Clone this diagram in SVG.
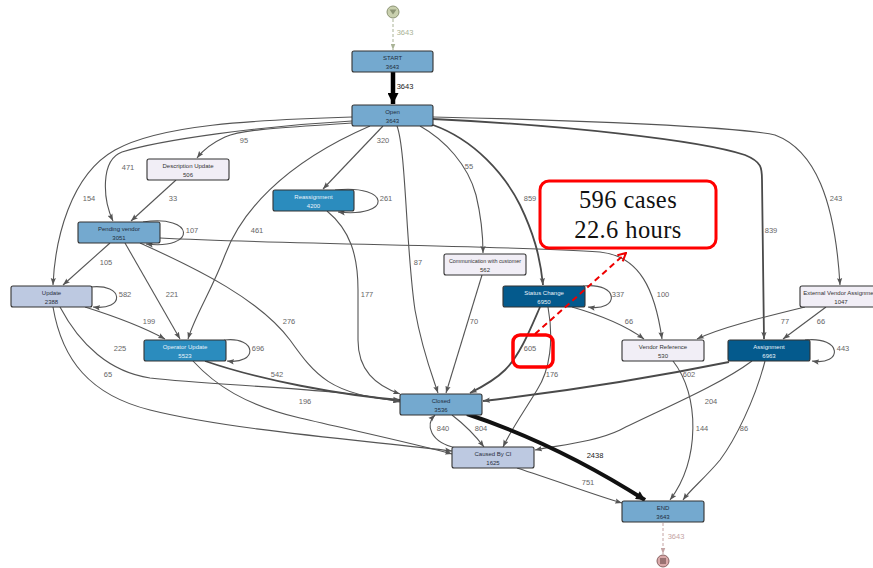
<svg xmlns="http://www.w3.org/2000/svg" width="873" height="568" viewBox="0 0 873 568">
<defs>
<style>
.e{fill:none;stroke:#555;stroke-width:1.1;marker-end:url(#a)}
.t{fill:none;stroke:#4a4a4a;stroke-width:1.8;marker-end:url(#a)}
.lb{font-family:"Liberation Sans",Arial,sans-serif;font-size:7.5px;fill:#666;text-anchor:middle}
.nd rect{stroke:#333;stroke-width:1.1}
.nd text{font-family:"Liberation Sans",Arial,sans-serif;font-size:6px;text-anchor:middle}
.c1 rect{fill:#74a9cf}.c1 text{fill:#1f2d3d}
.c2 rect{fill:#2b8cbe}.c2 text{fill:#e8f2fa}
.c3 rect{fill:#045a8d}.c3 text{fill:#e8f2fa}
.c4 rect{fill:#bdc9e1}.c4 text{fill:#2a2f3d}
.c5 rect{fill:#f1eef6}.c5 text{fill:#333}
.call{font-family:"Liberation Serif","Times New Roman",serif;font-size:24.5px;fill:#111;text-anchor:middle;letter-spacing:0.4px}
</style>
<marker id="a" viewBox="0 0 8 6" refX="8" refY="3" markerWidth="7" markerHeight="6" markerUnits="userSpaceOnUse" orient="auto"><path d="M0,0 L8,3 L0,6 L1.5,3 z" fill="#555"/></marker>
<marker id="ab" viewBox="0 0 10 10" refX="10" refY="5" markerWidth="11" markerHeight="11" markerUnits="userSpaceOnUse" orient="auto"><path d="M0,0 L10,5 L0,10 z" fill="#000"/></marker>
<marker id="ab2" viewBox="0 0 10 10" refX="10" refY="5" markerWidth="10" markerHeight="9" markerUnits="userSpaceOnUse" orient="auto"><path d="M0,0 L10,5 L0,10 z" fill="#111"/></marker>
<marker id="ag" viewBox="0 0 8 6" refX="8" refY="3" markerWidth="6" markerHeight="5" markerUnits="userSpaceOnUse" orient="auto"><path d="M0,0 L8,3 L0,6 z" fill="#a9b396"/></marker>
<marker id="ap" viewBox="0 0 8 6" refX="8" refY="3" markerWidth="6" markerHeight="5" markerUnits="userSpaceOnUse" orient="auto"><path d="M0,0 L8,3 L0,6 z" fill="#c4a4a4"/></marker>
<marker id="ar" viewBox="0 0 10 10" refX="9" refY="5" markerWidth="10" markerHeight="10" markerUnits="userSpaceOnUse" orient="auto"><path d="M1,1 L9,5 L1,9" fill="none" stroke="#e00" stroke-width="2"/></marker>
</defs>
<rect width="873" height="568" fill="#fff"/>

<g id="connectors">
<path d="M393,19 L393,50" fill="none" stroke="#a9b396" stroke-width="1" stroke-dasharray="3,2" marker-end="url(#ag)"/>
<path d="M393,72 L393,104" fill="none" stroke="#000" stroke-width="4.5" marker-end="url(#ab)"/>
<path class="e" d="M352,117 C250,120 160,125 115,150 C70,175 55,240 53,285"/>
<path class="e" d="M352,121 C260,126 160,140 122,152 C100,160 103,200 113,221"/>
<path class="e" d="M352,123 C300,127 245,128 225,137 C212,143 203,150 197,158"/>
<path class="e" d="M370,126 C280,165 240,215 225,255 C212,290 195,315 188,339"/>
<path class="e" d="M383,126 L323,189"/>
<path class="e" d="M397,126 C406,150 406,250 415,310 C422,350 432,375 438,393"/>
<path class="e" d="M420,126 C445,140 468,165 476,195 C482,220 483,240 483,253"/>
<path class="t" d="M433,125 C475,140 505,175 520,205 C533,232 540,255 543,285"/>
<path class="t" d="M433,119 C560,125 700,140 745,155 C762,162 762,168 762,180 L764,339"/>
<path class="e" d="M433,117 C580,120 740,127 775,135 C815,150 835,200 840,285"/>
<path class="e" d="M176,180 L131,221"/>
<path class="e" d="M143,222 C195,214 198,250 146,244"/>
<path class="e" d="M110,243 L63,285"/>
<path class="e" d="M125,243 L180,339"/>
<path class="e" d="M140,243 C200,270 260,300 290,340 C315,375 330,395 400,401"/>
<path class="e" d="M160,238 C300,245 500,245 600,252 C640,256 655,290 662,339"/>
<path class="e" d="M335,190 C392,184 392,218 338,212"/>
<path class="e" d="M327,211 C350,230 358,255 358,290 L358,340 C358,370 375,385 400,394"/>
<path class="e" d="M482,275 L446,393"/>
<path class="e" d="M90,287 C125,283 125,311 93,307"/>
<path class="e" d="M85,307 C120,318 145,328 165,339"/>
<path class="e" d="M60,307 C80,345 110,372 150,378 C220,386 340,388 400,402"/>
<path class="e" d="M53,307 C62,360 90,395 150,410 C230,430 360,440 452,451"/>
<path class="e" d="M224,340 C258,336 258,365 227,361"/>
<path class="t" d="M205,361 C260,380 340,395 400,400"/>
<path class="e" d="M193,361 C215,385 245,405 300,418 C360,432 420,445 452,454"/>
<path class="e" d="M583,286 C620,282 620,312 588,307"/>
<path class="t" d="M540,307 C530,330 520,355 505,370 C495,380 480,388 470,393"/>
<path class="e" d="M548,307 C554,340 550,370 537,390 C525,410 512,428 503,447"/>
<path class="e" d="M572,307 C600,315 625,325 644,339"/>
<path class="e" d="M805,307 C760,318 720,328 697,339"/>
<path class="e" d="M826,307 L783,339"/>
<path class="e" d="M673,361 C700,395 700,460 670,500"/>
<path class="e" d="M805,340 C843,336 843,366 812,361"/>
<path class="t" d="M729,362 C650,378 560,392 483,401"/>
<path class="e" d="M752,361 C720,385 660,410 620,430 C595,442 560,445 535,450"/>
<path class="e" d="M765,361 C755,400 735,440 720,460 C705,478 690,490 683,500"/>
<path d="M467,414 C530,435 590,465 645,500" fill="none" stroke="#111" stroke-width="4" marker-end="url(#ab2)"/>
<path class="e" d="M452,415 C465,425 475,435 484,447"/>
<path class="e" d="M456,448 C430,442 425,425 435,415"/>
<path class="e" d="M517,468 C560,482 595,495 622,503"/>
<path d="M663,523 L663,554" fill="none" stroke="#c4a4a4" stroke-width="1" stroke-dasharray="3,2" marker-end="url(#ap)"/>

<text class="lb" x="405" y="35" style="fill:#a9b396">3643</text>
<text class="lb" x="405" y="89" style="fill:#222">3643</text>
<text class="lb" x="244" y="143">95</text>
<text class="lb" x="128" y="170">471</text>
<text class="lb" x="383" y="143">320</text>
<text class="lb" x="89" y="201">154</text>
<text class="lb" x="173" y="201">33</text>
<text class="lb" x="386" y="201">261</text>
<text class="lb" x="192" y="233">107</text>
<text class="lb" x="257" y="233">461</text>
<text class="lb" x="469" y="169">55</text>
<text class="lb" x="530" y="201">859</text>
<text class="lb" x="771" y="233">839</text>
<text class="lb" x="836" y="201">243</text>
<text class="lb" x="106" y="265">105</text>
<text class="lb" x="418" y="265">87</text>
<text class="lb" x="125" y="297">582</text>
<text class="lb" x="172" y="297">221</text>
<text class="lb" x="367" y="297">177</text>
<text class="lb" x="663" y="297">100</text>
<text class="lb" x="618" y="297">337</text>
<text class="lb" x="149" y="324">199</text>
<text class="lb" x="289" y="324">276</text>
<text class="lb" x="474" y="324">70</text>
<text class="lb" x="629" y="324">66</text>
<text class="lb" x="785" y="324">77</text>
<text class="lb" x="821" y="324">66</text>
<text class="lb" x="120" y="351">225</text>
<text class="lb" x="258" y="351">696</text>
<text class="lb" x="530" y="351">605</text>
<text class="lb" x="843" y="351">443</text>
<text class="lb" x="108" y="377">65</text>
<text class="lb" x="277" y="377">542</text>
<text class="lb" x="552" y="377">176</text>
<text class="lb" x="689" y="377">602</text>
<text class="lb" x="305" y="404">196</text>
<text class="lb" x="711" y="404">204</text>
<text class="lb" x="443" y="431">840</text>
<text class="lb" x="481" y="431">804</text>
<text class="lb" x="702" y="431">144</text>
<text class="lb" x="744" y="431">86</text>
<text class="lb" x="595" y="458" style="fill:#222">2438</text>
<text class="lb" x="588" y="485">751</text>
<text class="lb" x="676" y="539" style="fill:#c4a4a4">3643</text>
</g>

<g id="node-start-event">
<circle cx="393" cy="12" r="6" fill="#c9d0ae" stroke="#8c9474" stroke-width="1"/>
<path d="M389.5,9.5 L396.5,9.5 L393,14.5 z" fill="#8c9474"/>
</g>
<g id="node-end-event">
<circle cx="663" cy="561" r="6" fill="#d9a9a9" stroke="#8a6464" stroke-width="1"/>
<rect x="660" y="558" width="6" height="6" fill="#9a7272"/>
</g>

<g id="node-start" class="nd c1"><rect x="352" y="51" width="81" height="21" rx="2"/><text x="392.5" y="59.5">START</text><text x="392.5" y="69">3643</text></g>
<g id="node-open" class="nd c1"><rect x="352" y="105" width="81" height="21" rx="2"/><text x="392.5" y="113.5">Open</text><text x="392.5" y="123">3643</text></g>
<g id="node-description-update" class="nd c5"><rect x="147" y="159" width="82" height="21" rx="2"/><text x="188" y="167.5">Description Update</text><text x="188" y="177">506</text></g>
<g id="node-reassignment" class="nd c2"><rect x="273" y="190" width="81" height="21" rx="2"/><text x="313.5" y="198.5">Reassignment</text><text x="313.5" y="208">4200</text></g>
<g id="node-pending-vendor" class="nd c1"><rect x="78" y="222" width="82" height="21" rx="2"/><text x="119" y="230.5">Pending vendor</text><text x="119" y="240">3051</text></g>
<g id="node-communication" class="nd c5"><rect x="444" y="254" width="82" height="21" rx="2"/><text x="485" y="262.5" style="font-size:5.4px">Communication with customer</text><text x="485" y="272">562</text></g>
<g id="node-update" class="nd c4"><rect x="11" y="286" width="81" height="21" rx="2"/><text x="51.5" y="294.5">Update</text><text x="51.5" y="304">2388</text></g>
<g id="node-status-change" class="nd c3"><rect x="503" y="286" width="82" height="21" rx="2"/><text x="544" y="294.5">Status Change</text><text x="544" y="304">6950</text></g>
<g id="node-external-vendor" class="nd c5"><rect x="800" y="286" width="82" height="21" rx="2"/><text x="841" y="294.5">External Vendor Assignment</text><text x="841" y="304">1047</text></g>
<g id="node-operator-update" class="nd c2"><rect x="144" y="340" width="82" height="21" rx="2"/><text x="185" y="348.5">Operator Update</text><text x="185" y="358">5523</text></g>
<g id="node-vendor-reference" class="nd c5"><rect x="622" y="340" width="82" height="21" rx="2"/><text x="663" y="348.5">Vendor Reference</text><text x="663" y="358">530</text></g>
<g id="node-assignment" class="nd c3"><rect x="728" y="340" width="82" height="21" rx="2"/><text x="769" y="348.5">Assignment</text><text x="769" y="358">6963</text></g>
<g id="node-closed" class="nd c1"><rect x="400" y="394" width="82" height="21" rx="2"/><text x="441" y="402.5">Closed</text><text x="441" y="412">3536</text></g>
<g id="node-caused-by-ci" class="nd c4"><rect x="452" y="447" width="82" height="21" rx="2"/><text x="493" y="455.5">Caused By CI</text><text x="493" y="465">1625</text></g>
<g id="node-end" class="nd c1"><rect x="622" y="501" width="82" height="21" rx="2"/><text x="663" y="509.5">END</text><text x="663" y="519">3643</text></g>

<g id="annotation">
<rect x="540" y="181" width="176" height="67" rx="9" fill="#fff" stroke="#f00" stroke-width="3"/>
<text class="call" x="628" y="208">596 cases</text>
<text class="call" x="628" y="238">22.6 hours</text>
<rect x="513" y="335" width="40" height="32" rx="7" fill="none" stroke="#f00" stroke-width="3.5"/>
<path d="M535,334 L626,253" fill="none" stroke="#e00" stroke-width="2" stroke-dasharray="6,4" marker-end="url(#ar)"/>
</g>
</svg>
